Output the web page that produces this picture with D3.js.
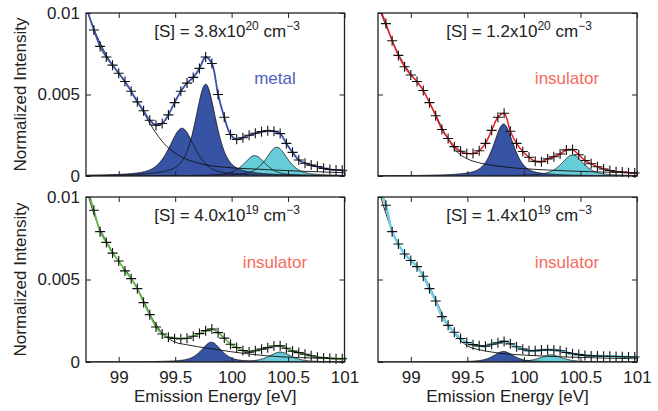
<!DOCTYPE html>
<html>
<head>
<meta charset="utf-8">
<script src="https://cdn.jsdelivr.net/npm/d3@7"></script>
<style>
  body { margin: 0; background: #fff; }
  text { font-family: "Liberation Sans", Arial, Helvetica, sans-serif; }
</style>
</head>
<body>
<svg id="chart" width="658" height="411"></svg>
<script>
// tick values
var xTicks = [99, 99.5, 100, 100.5, 101];
var yTicks = [0, 0.005, 0.01];

// energies of the "+" markers (eV)
var crossE = [98.78, 98.835, 98.89, 98.945, 99.0, 99.055, 99.11, 99.165, 99.22, 99.275,
              99.33, 99.385, 99.44, 99.495, 99.55, 99.605, 99.66, 99.715, 99.77, 99.825,
              99.88, 99.935, 99.99, 100.045, 100.1, 100.155, 100.21, 100.265, 100.32, 100.375,
              100.43, 100.485, 100.54, 100.595, 100.65, 100.705, 100.76, 100.815, 100.87, 100.925, 100.98];

// all intensities below are in units of 1e-3
var cross38e20 = [8.96, 7.95, 7.3, 6.8, 6.3, 5.8, 5.2, 4.55, 4.0, 3.42,
                  3.12, 3.22, 3.75, 4.5, 5.2, 5.7, 6.05, 6.6, 7.3, 6.9,
                  5.0, 3.6, 2.55, 2.25, 2.35, 2.5, 2.62, 2.72, 2.78, 2.75,
                  2.6, 2.0, 1.45, 0.98, 0.78, 0.67, 0.58, 0.47, 0.40, 0.37, 0.35];
var cross12e20 = [9.35, 8.3, 7.4, 6.7, 6.2, 5.8, 5.25, 4.5, 3.7, 2.85,
                  2.3, 1.8, 1.52, 1.38, 1.38, 1.55, 2.0, 2.8, 3.6, 3.85,
                  2.75, 2.0, 1.5, 1.15, 0.9, 0.88, 1.05, 1.18, 1.35, 1.6,
                  1.62, 1.3, 0.95, 0.75, 0.57, 0.43, 0.34, 0.26, 0.25, 0.2, 0.18];
var cross40e19 = [9.2, 7.9, 7.25, 6.6, 6.12, 5.52, 5.05, 4.45, 3.6, 2.87,
                  2.12, 1.7, 1.5, 1.43, 1.41, 1.44, 1.56, 1.72, 1.9, 2.0,
                  1.78, 1.45, 1.08, 0.88, 0.7, 0.6, 0.68, 0.78, 0.87, 0.97,
                  0.98, 0.83, 0.66, 0.57, 0.47, 0.38, 0.29, 0.25, 0.22, 0.2, 0.2];
var cross14e19 = [9.5, 7.9, 7.15, 6.55, 6.15, 5.78, 5.2, 4.45, 3.7, 2.75,
                  2.22, 1.8, 1.42, 1.18, 1.05, 0.98, 0.96, 1.08, 1.16, 1.25,
                  1.1, 0.92, 0.78, 0.68, 0.68, 0.72, 0.74, 0.73, 0.68, 0.58,
                  0.5, 0.45, 0.4, 0.37, 0.36, 0.35, 0.35, 0.33, 0.32, 0.3, 0.3];

// measured line end points at the panel edges (98.71 eV and 101 eV)
var lineEnds38e20 = [10.4, 0.3];
var lineEnds12e20 = [10.6, 0.15];
var lineEnds40e19 = [10.8, 0.2];
var lineEnds14e19 = [10.7, 0.35];

// background (thin black decay curve)
var bgE = [98.7, 98.8, 98.9, 99.0, 99.1, 99.2, 99.3, 99.4, 99.5, 99.6,
           99.7, 99.8, 99.9, 100.0, 100.2, 100.4, 100.6, 100.8, 101.0];
var bg38e20 = [10.5, 8.7, 7.3, 6.3, 5.3, 4.15, 2.95, 2.0, 1.4, 1.03, 0.8, 0.65, 0.56, 0.5, 0.43, 0.36, 0.3, 0.25, 0.2];
var bg12e20 = [10.6, 8.9, 7.35, 6.25, 5.35, 4.05, 2.65, 1.55, 1.05, 0.82, 0.68, 0.58, 0.5, 0.45, 0.37, 0.31, 0.26, 0.22, 0.2];
var bg40e19 = [10.8, 8.6, 7.2, 6.1, 5.2, 4.0, 2.6, 1.65, 1.2, 1.05, 0.93, 0.82, 0.72, 0.62, 0.45, 0.33, 0.27, 0.22, 0.2];
var bg14e19 = [10.8, 8.6, 7.0, 6.2, 5.4, 4.1, 2.6, 1.6, 0.98, 0.75, 0.62, 0.52, 0.46, 0.42, 0.35, 0.3, 0.26, 0.22, 0.2];

// fitted peaks: [centre eV, height, fwhm eV]
var dark38e20 = [[99.56, 2.93, 0.27], [99.77, 5.63, 0.22]];
var cyan38e20 = [[100.205, 1.25, 0.23], [100.40, 1.76, 0.23]];
var dark12e20 = [[99.82, 3.19, 0.21]];
var cyan12e20 = [[100.43, 1.29, 0.23]];
var dark40e19 = [[99.82, 1.2, 0.21]];
var cyan40e19 = [[100.43, 0.6, 0.23]];
var dark14e19 = [[99.82, 0.64, 0.21]];
var cyan14e19 = [[100.24, 0.43, 0.23]];

var concLabels = [["3.8", "20"], ["1.2", "20"], ["4.0", "19"], ["1.4", "19"]];
var states = ["metal", "insulator", "insulator", "insulator"];

var panels = [
    {conc: concLabels[0], state: states[0], cross: cross38e20, ends: lineEnds38e20, bg: bg38e20, dark: dark38e20, cyan: cyan38e20,
     x0: 86, x1: 344.5, y0: 13, y1: 176, color: "#3a4fae", lw: 1.8, stateColor: "#5060ba", left: true, bottom: false},
    {conc: concLabels[1], state: states[1], cross: cross12e20, ends: lineEnds12e20, bg: bg12e20, dark: dark12e20, cyan: cyan12e20,
     x0: 378, x1: 637, y0: 13, y1: 176, color: "#ec1c24", lw: 1.5, stateColor: "#f46a5c", left: false, bottom: false},
    {conc: concLabels[2], state: states[2], cross: cross40e19, ends: lineEnds40e19, bg: bg40e19, dark: dark40e19, cyan: cyan40e19,
     x0: 86, x1: 344.5, y0: 197, y1: 362, color: "#5cba44", lw: 1.7, stateColor: "#f46a5c", left: true, bottom: true},
    {conc: concLabels[3], state: states[3], cross: cross14e19, ends: lineEnds14e19, bg: bg14e19, dark: dark14e19, cyan: cyan14e19,
     x0: 378, x1: 637, y0: 197, y1: 362, color: "#6ccfe4", lw: 2.5, stateColor: "#f46a5c", left: false, bottom: true}
];

var svg = d3.select("#chart");
var eta = 0.6;   // lorentzian share of the pseudo-voigt fit

function peakValue(e, p) {
    var d = (e - p[0]) / p[2];
    return p[1] * (eta / (1 + 4 * d * d) + (1 - eta) * Math.exp(-4 * Math.LN2 * d * d));
}

var fineE = d3.range(98.7, 101.0001, 0.004);

panels.forEach(function (pn, i) {
    var x = d3.scaleLinear().domain([98.71, 101]).range([pn.x0, pn.x1]);
    var y = d3.scaleLinear().domain([0, 0.01]).range([pn.y1, pn.y0]);
    var g = svg.append("g");

    g.append("clipPath").attr("id", "clip" + i)
        .append("rect").attr("x", pn.x0).attr("y", pn.y0)
        .attr("width", pn.x1 - pn.x0).attr("height", pn.y1 - pn.y0);
    var plot = g.append("g").attr("clip-path", "url(#clip" + i + ")");

    var area = d3.area().x(d => x(d[0])).y0(y(0)).y1(d => y(d[1] * 1e-3));
    var line = d3.line().x(d => x(d[0])).y(d => y(d[1] * 1e-3));

    var peaks = pn.cyan.map(p => ({p: p, fill: "#66ccd8"}))
        .concat(pn.dark.map(p => ({p: p, fill: "#3653a4"})));
    peaks.forEach(function (pk) {
        pk.pts = fineE.map(e => [e, peakValue(e, pk.p)]);
        plot.append("path").attr("d", area(pk.pts)).attr("fill", pk.fill);
    });
    peaks.forEach(function (pk) {
        plot.append("path").attr("d", line(pk.pts))
            .attr("fill", "none").attr("stroke", "#111").attr("stroke-width", 0.8);
    });

    plot.append("path")
        .attr("d", line.curve(d3.curveMonotoneX)(bgE.map((e, j) => [e, pn.bg[j]])))
        .attr("fill", "none").attr("stroke", "#111").attr("stroke-width", 0.9);

    var dataPts = [[98.71, pn.ends[0]]]
        .concat(crossE.map((e, j) => [e, pn.cross[j]]))
        .concat([[101, pn.ends[1]]]);
    plot.append("path")
        .attr("d", d3.line().x(d => x(d[0])).y(d => y(d[1] * 1e-3)).curve(d3.curveCatmullRom)(dataPts))
        .attr("fill", "none").attr("stroke", pn.color).attr("stroke-width", pn.lw);

    g.selectAll(".cross")
        .data(crossE.map((e, j) => [e, pn.cross[j]]))
        .enter().append("path")
        .attr("transform", d => "translate(" + x(d[0]) + "," + y(d[1] * 1e-3) + ")")
        .attr("d", "M-5,0H5M0,-5V5")
        .attr("stroke", "#111").attr("stroke-width", 1.1);

    // axes with inward ticks on all four sides
    var fx = d => String(d), fy = d => String(d);
    var axB = g.append("g").attr("transform", "translate(0," + pn.y1 + ")")
        .call(d3.axisBottom(x).tickValues(xTicks).tickSizeInner(-5).tickSizeOuter(0).tickPadding(9)
            .tickFormat(pn.bottom ? fx : ""));
    var axT = g.append("g").attr("transform", "translate(0," + pn.y0 + ")")
        .call(d3.axisTop(x).tickValues(xTicks).tickSizeInner(-5).tickSizeOuter(0).tickFormat(""));
    var axL = g.append("g").attr("transform", "translate(" + pn.x0 + ",0)")
        .call(d3.axisLeft(y).tickValues(yTicks).tickSizeInner(-5).tickSizeOuter(0).tickPadding(6)
            .tickFormat(pn.left ? fy : ""));
    var axR = g.append("g").attr("transform", "translate(" + pn.x1 + ",0)")
        .call(d3.axisRight(y).tickValues(yTicks).tickSizeInner(-5).tickSizeOuter(0).tickFormat(""));
    [axB, axT, axL, axR].forEach(function (a) {
        a.select(".domain").remove();
        a.selectAll("line").attr("stroke", "#222").attr("stroke-width", 1);
        a.selectAll("text").attr("font-size", 17).attr("fill", "#222")
            .style("font-family", "'Liberation Sans', Arial, sans-serif");
    });

    g.append("rect").attr("x", pn.x0).attr("y", pn.y0)
        .attr("width", pn.x1 - pn.x0).attr("height", pn.y1 - pn.y0)
        .attr("fill", "none").attr("stroke", "#222").attr("stroke-width", 1.3);

    var t = g.append("text").attr("x", pn.x0 + 141).attr("y", pn.y0 + 23.5)
        .attr("text-anchor", "middle").attr("font-size", 17).attr("fill", "#222");
    t.append("tspan").text("[S] = " + pn.conc[0] + "x10");
    t.append("tspan").attr("dy", -7).attr("font-size", 12).text(pn.conc[1]);
    t.append("tspan").attr("dy", 7).text(" cm");
    t.append("tspan").attr("dy", -7).attr("font-size", 12).text("\u22123");

    g.append("text").attr("x", pn.x0 + 189).attr("y", pn.y0 + 71)
        .attr("text-anchor", "middle").attr("font-size", 17).attr("fill", pn.stateColor)
        .text(pn.state);

    if (pn.left) {
        g.append("text")
            .attr("transform", "translate(25.5," + (pn.y0 + pn.y1) / 2 + ") rotate(-90)")
            .attr("text-anchor", "middle").attr("font-size", 17).attr("fill", "#222")
            .text("Normalized Intensity");
    }
    if (pn.bottom) {
        g.append("text").attr("x", (pn.x0 + pn.x1) / 2).attr("y", 402)
            .attr("text-anchor", "middle").attr("font-size", 17).attr("fill", "#222")
            .text("Emission Energy [eV]");
    }
});
</script>
</body>
</html>
